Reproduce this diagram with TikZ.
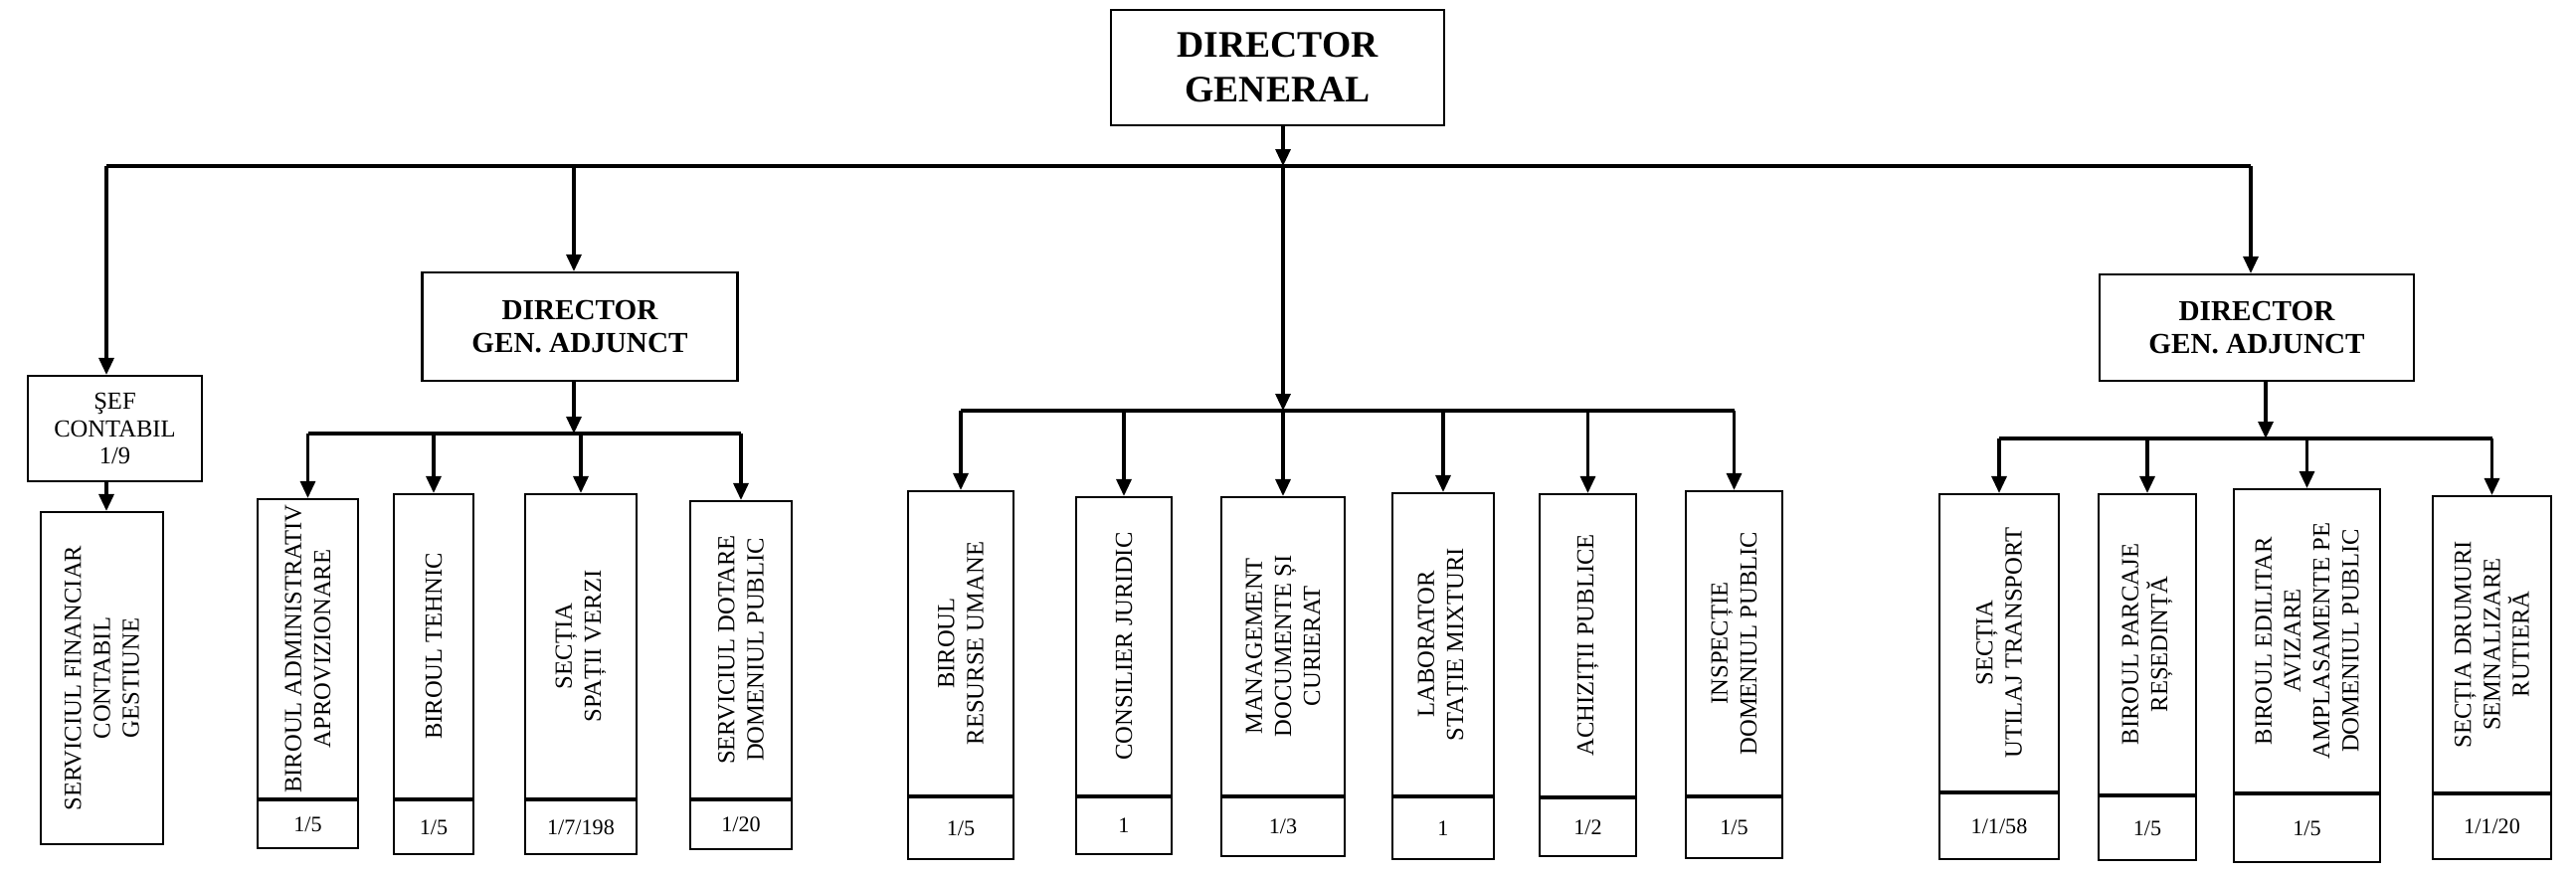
\documentclass[tikz,border=0pt]{standalone}
\usepackage{fontspec}
\setmainfont{Liberation Serif}
\usetikzlibrary{arrows.meta}

\tikzset{
  box/.style={draw, line width=0.6pt, inner sep=0pt},
  head/.style={box, align=center, font=\bfseries\fontsize{10.7}{12.8}\selectfont},
  subhead/.style={box, align=center, font=\bfseries\fontsize{8.3}{9.6}\selectfont},
  lbl/.style={rotate=90, align=center, inner sep=0pt, font=\fontsize{7}{8.3}\selectfont},
  cell/.style={box, anchor=north, font=\fontsize{6.3}{7}\selectfont},
  link/.style={line width=0.9pt, -{Triangle[length=1.7mm, width=1.5mm]}},
  bus/.style={line width=0.9pt},
}

\begin{document}
\begin{tikzpicture}[x=1mm,y=-1mm]
\useasboundingbox (0,0) rectangle (259,87.7);

% top level
\node[head, minimum width=33.5mm, minimum height=11.6mm] (dg) at (128.45,6.8) {DIRECTOR\\GENERAL};
\coordinate (bus) at (129,16.7);
\coordinate (busl) at (10.7,16.7);
\coordinate (lbus) at (0,43.6);
\coordinate (cbus) at (0,41.3);
\coordinate (rbus) at (0,44.1);

\node[subhead, minimum width=31.7mm, minimum height=10.9mm] (dgal) at (58.3,32.85) {DIRECTOR\\GEN. ADJUNCT};
\node[subhead, minimum width=31.6mm, minimum height=10.7mm] (dgar) at (226.9,32.95) {DIRECTOR\\GEN. ADJUNCT};
\coordinate (dgalx) at (57.7,0);
\coordinate (dgarx) at (226.3,0);
\coordinate (dgary) at (227.8,0);

\draw[link] (dg.south -| bus) -- (bus);
\draw[bus] (busl) -- (dgarx |- busl);
\draw[link] (dgalx |- busl) -- (dgalx |- dgal.north);
\draw[link] (dgarx |- busl) -- (dgarx |- dgar.north);
\draw[link] (bus) -- (bus |- cbus);

% chief accountant
\node[box, minimum width=17.5mm, minimum height=10.6mm, align=center, font=\fontsize{7}{7.8}\selectfont] (sef) at (11.55,43.1) {ŞEF\\CONTABIL\\1/9};
\node[box, minimum width=12.3mm, minimum height=33.4mm] (sfc) at (10.25,68.2) {};
\node[lbl] (sfct) at (sfc) {SERVICIUL FINANCIAR\\CONTABIL\\GESTIUNE};
\draw[link] (busl) -- (busl |- sef.north);
\draw[link] (sef.south -| busl) -- (sfc.north -| busl);

% first group
\draw[link] (dgalx |- dgal.south) -- (dgalx |- lbus);
\node[box, minimum width=10.1mm, minimum height=30.1mm] (badm) at (30.95,65.25) {};
\node[cell, minimum width=10.1mm, minimum height=4.8mm] (badmn) at (badm.south) {1/5};
\node[lbl] (badmt) at (badm) {BIROUL ADMINISTRATIV\\APROVIZIONARE};
\node[box, minimum width=8mm, minimum height=30.6mm] (bteh) at (43.6,65) {};
\node[cell, minimum width=8mm, minimum height=5.4mm] (btehn) at (bteh.south) {1/5};
\node[lbl] (bteht) at (bteh) {BIROUL TEHNIC};
\node[box, minimum width=11.2mm, minimum height=30.6mm] (ssv) at (58.4,65) {};
\node[cell, minimum width=11.2mm, minimum height=5.4mm] (ssvn) at (ssv.south) {1/7/198};
\node[lbl] (ssvt) at (ssv) {SECȚIA\\SPAȚII VERZI};
\node[box, minimum width=10.2mm, minimum height=29.9mm] (sdp) at (74.5,65.35) {};
\node[cell, minimum width=10.2mm, minimum height=4.9mm] (sdpn) at (sdp.south) {1/20};
\node[lbl] (sdpt) at (sdp) {SERVICIUL DOTARE\\DOMENIUL PUBLIC};
\draw[bus] (badm.north |- lbus) -- (sdp.north |- lbus);
\draw[link] (badm.north |- lbus) -- (badm.north);
\draw[link] (bteh.north |- lbus) -- (bteh.north);
\draw[link] (ssv.north |- lbus) -- (ssv.north);
\draw[link] (sdp.north |- lbus) -- (sdp.north);

% second group
\node[box, minimum width=10.6mm, minimum height=30.6mm] (bru) at (96.6,64.7) {};
\node[cell, minimum width=10.6mm, minimum height=6.2mm] (brun) at (bru.south) {1/5};
\node[lbl] (brut) at (bru) {BIROUL\\RESURSE UMANE};
\node[box, minimum width=9.6mm, minimum height=30mm] (cj) at (113,65) {};
\node[cell, minimum width=9.6mm, minimum height=5.7mm] (cjn) at (cj.south) {1};
\node[lbl] (cjt) at (cj) {CONSILIER JURIDIC};
\node[box, minimum width=12.4mm, minimum height=30mm] (mdc) at (129,65) {};
\node[cell, minimum width=12.4mm, minimum height=5.9mm] (mdcn) at (mdc.south) {1/3};
\node[lbl] (mdct) at (mdc) {MANAGEMENT\\DOCUMENTE ȘI\\CURIERAT};
\node[box, minimum width=10.2mm, minimum height=30.4mm] (lsm) at (145.1,64.8) {};
\node[cell, minimum width=10.2mm, minimum height=6.2mm] (lsmn) at (lsm.south) {1};
\node[lbl] (lsmt) at (lsm) {LABORATOR\\STAȚIE MIXTURI};
\node[box, minimum width=9.7mm, minimum height=30.4mm] (ap) at (159.65,64.9) {};
\node[cell, minimum width=9.7mm, minimum height=5.8mm] (apn) at (ap.south) {1/2};
\node[lbl] (apt) at (ap) {ACHIZIȚII PUBLICE};
\node[box, minimum width=9.7mm, minimum height=30.6mm] (idp) at (174.35,64.7) {};
\node[cell, minimum width=9.7mm, minimum height=6.1mm] (idpn) at (idp.south) {1/5};
\node[lbl] (idpt) at (idp) {INSPECȚIE\\DOMENIUL PUBLIC};
\draw[bus] (bru.north |- cbus) -- (idp.north |- cbus);
\draw[link] (bru.north |- cbus) -- (bru.north);
\draw[link] (cj.north |- cbus) -- (cj.north);
\draw[link] (mdc.north |- cbus) -- (mdc.north);
\draw[link] (lsm.north |- cbus) -- (lsm.north);
\draw[link] (ap.north |- cbus) -- (ap.north);
\draw[link] (idp.north |- cbus) -- (idp.north);

% third group
\draw[link] (dgary |- dgar.south) -- (dgary |- rbus);
\node[box, minimum width=12mm, minimum height=29.9mm] (sut) at (201,64.65) {};
\node[cell, minimum width=12mm, minimum height=6.6mm] (sutn) at (sut.south) {1/1/58};
\node[lbl] (sutt) at (sut) {SECȚIA\\UTILAJ TRANSPORT};
\node[box, minimum width=9.8mm, minimum height=30.2mm] (bpr) at (215.9,64.8) {};
\node[cell, minimum width=9.8mm, minimum height=6.4mm] (bprn) at (bpr.south) {1/5};
\node[lbl] (bprt) at (bpr) {BIROUL PARCAJE\\REȘEDINȚĂ};
\node[box, minimum width=14.7mm, minimum height=30.5mm] (bea) at (231.95,64.45) {};
\node[cell, minimum width=14.7mm, minimum height=6.8mm] (bean) at (bea.south) {1/5};
\node[lbl] (beat) at (bea) {BIROUL EDILITAR\\AVIZARE\\AMPLASAMENTE PE\\DOMENIUL PUBLIC};
\node[box, minimum width=11.9mm, minimum height=29.8mm] (sdr) at (250.55,64.8) {};
\node[cell, minimum width=11.9mm, minimum height=6.5mm] (sdrn) at (sdr.south) {1/1/20};
\node[lbl] (sdrt) at (sdr) {SECȚIA DRUMURI\\SEMNALIZARE\\RUTIERĂ};
\draw[bus] (sut.north |- rbus) -- (sdr.north |- rbus);
\draw[link] (sut.north |- rbus) -- (sut.north);
\draw[link] (bpr.north |- rbus) -- (bpr.north);
\draw[link] (bea.north |- rbus) -- (bea.north);
\draw[link] (sdr.north |- rbus) -- (sdr.north);
\end{tikzpicture}
\end{document}
